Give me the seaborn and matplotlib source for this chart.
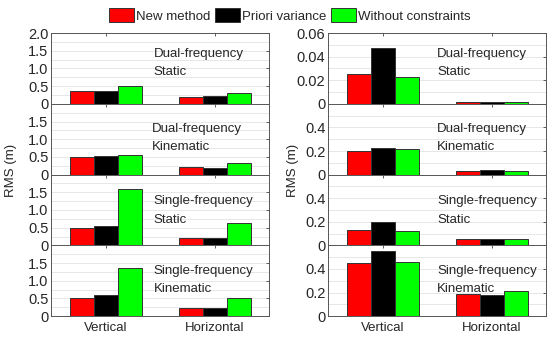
import numpy as np
import pandas as pd
import matplotlib
matplotlib.use('Agg')
import matplotlib.pyplot as plt
import seaborn as sns
from matplotlib.patches import Patch

sns.set_style('white')
plt.rcParams['font.family'] = ['Liberation Sans', 'DejaVu Sans']
plt.rcParams['font.size'] = 9.5

# categories and series
directions = ['Vertical', 'Horizontal']
methods = ['New method', 'Priori variance', 'Without constraints']
colors = ['#ff0000', '#000000', '#00ff00']
panel_labels = ['Dual-frequency\nStatic', 'Dual-frequency\nKinematic',
                'Single-frequency\nStatic', 'Single-frequency\nKinematic']

# RMS (m), one [vertical, horizontal] pair per panel, left column
new_left = [[0.35, 0.20], [0.51, 0.22], [0.50, 0.21], [0.52, 0.24]]
priori_left = [[0.37, 0.22], [0.53, 0.20], [0.56, 0.20], [0.61, 0.23]]
nocon_left = [[0.49, 0.32], [0.54, 0.32], [1.58, 0.63], [1.37, 0.50]]

# right column
new_right = [[0.0255, 0.0018], [0.197, 0.028], [0.127, 0.051], [0.451, 0.186]]
priori_right = [[0.0475, 0.0019], [0.222, 0.040], [0.195, 0.055], [0.551, 0.180]]
nocon_right = [[0.0225, 0.0018], [0.217, 0.031], [0.118, 0.051], [0.463, 0.209]]

# text positions (axes fraction) for the panel labels
left_text_x = [0.47, 0.46, 0.47, 0.47]
right_text_x = [0.50, 0.50, 0.50, 0.50]


def make_df(new, pri, noc, i):
    rows = []
    for m, vals in zip(methods, [new[i], pri[i], noc[i]]):
        for d, v in zip(directions, vals):
            rows.append({'direction': d, 'method': m, 'rms': v})
    return pd.DataFrame(rows)


fig, axes = plt.subplots(4, 2, figsize=(5.5, 3.41), dpi=100)
fig.subplots_adjust(left=0.093, right=0.993, top=0.903, bottom=0.073,
                    hspace=0, wspace=0.27)

for col in range(2):
    for i in range(4):
        ax = axes[i, col]
        if col == 0:
            df = make_df(new_left, priori_left, nocon_left, i)
        else:
            df = make_df(new_right, priori_right, nocon_right, i)
        sns.barplot(data=df, x='direction', y='rms', hue='method',
                    palette=colors, saturation=1, width=0.66, gap=0,
                    edgecolor='#333333', linewidth=0.7, legend=False, ax=ax)
        ax.set_xlim(-0.5, 1.5)

        if col == 0:
            ax.set_ylim(0, 2)
            grid = np.arange(0.25, 2.0, 0.25)
            ticks = [0, 0.5, 1.0, 1.5, 2.0] if i == 0 else [0, 0.5, 1.0, 1.5]
            labels = ['0', '0.5', '1.0', '1.5', '2.0'][:len(ticks)]
        elif i == 0:
            ax.set_ylim(0, 0.06)
            grid = np.arange(0.01, 0.06, 0.01)
            ticks = [0, 0.02, 0.04, 0.06]
            labels = ['0', '0.02', '0.04', '0.06']
        else:
            ax.set_ylim(0, 0.6)
            grid = np.arange(0.1, 0.6, 0.1)
            ticks = [0, 0.2, 0.4]
            labels = ['0', '0.2', '0.4']
        for g in grid:
            ax.axhline(g, color='#e3e3e3', lw=0.6, zorder=0)
        ax.set_axisbelow(True)
        ax.set_yticks(ticks)
        ax.set_yticklabels(labels)

        ax.set_ylabel('')
        ax.set_xlabel('')
        if i < 3:
            ax.set_xticklabels([])
        ax.tick_params(direction='in', length=2.5, width=0.6, color='#444444',
                       top=True, right=True, pad=2)
        ax.tick_params(axis='y', labelsize=10.5)
        ax.tick_params(axis='x', labelsize=9.5, pad=4)
        for s in ax.spines.values():
            s.set_color('#555555')
            s.set_linewidth(0.7)

        tx = left_text_x[i] if col == 0 else right_text_x[i]
        first, second = panel_labels[i].split('\n')
        ty = [0.71, 0.65, 0.62, 0.64][i]
        ax.text(tx, ty, first, transform=ax.transAxes, fontsize=9.5, va='center')
        ax.text(tx, ty - 0.26, second, transform=ax.transAxes, fontsize=9.5, va='center')

fig.text(0.02, 0.5, 'RMS (m)', rotation=90, va='center', ha='center', fontsize=9.5)
fig.text(0.532, 0.5, 'RMS (m)', rotation=90, va='center', ha='center', fontsize=9.5)

handles = [Patch(facecolor=c, edgecolor='#333333', lw=0.7) for c in colors]
fig.legend(handles, methods, loc='upper center', bbox_to_anchor=(0.527, 1.01),
           ncol=3, frameon=False, handlelength=1.9, handleheight=1.2,
           handletextpad=0.2, columnspacing=0.3, fontsize=9.5)

fig.savefig('out.png', dpi=100)
